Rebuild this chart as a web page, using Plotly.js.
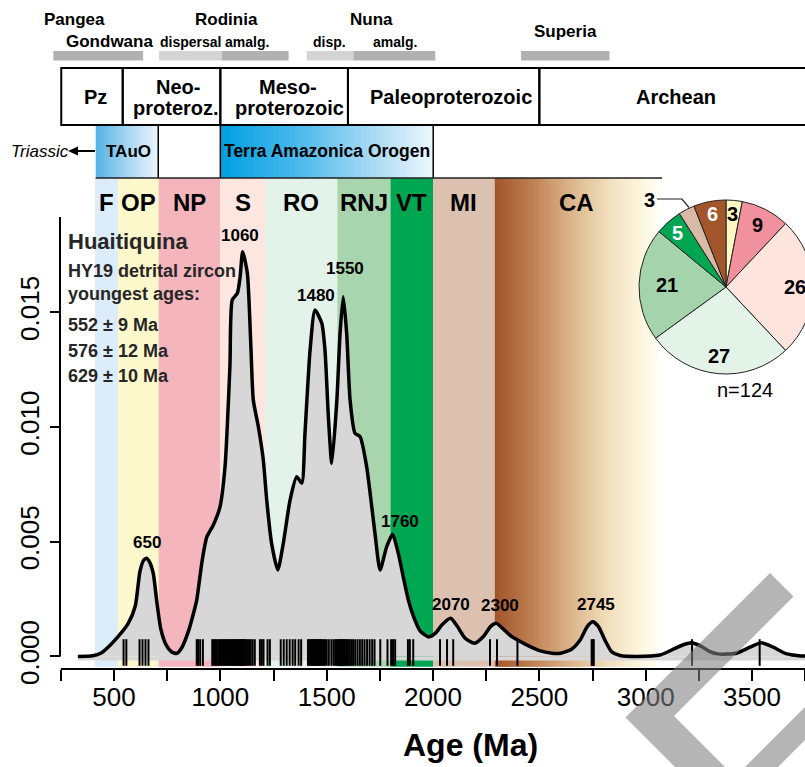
<!DOCTYPE html>
<html><head><meta charset="utf-8">
<script src="https://cdn.plot.ly/plotly-3.0.1.min.js"></script>
<style>html,body{margin:0;padding:0;overflow:hidden;background:#fff;width:805px;height:767px}#chart{width:830px;height:767px}</style>
</head><body><div id="chart"></div>
<script>
// ---------------- data ----------------
const kdeAge = [330,400,440,483,519,567,600,622,640,653,668,685,701,720,745,770,795,820,850,880,
  889,915,936,967,998,1022,1045,1056,1080,1093,1105,1127,1143,1155,1179,1202,1218,1241,1270,1296,
  1328,1359,1383,1398,1422,1445,1477,1492,1508,1524,1548,1563,1578,1594,1610,1633,1657,1688,1727,1751,
  1782,1810,1837,1860,1884,1910,1940,1980,2010,2045,2083,2115,2150,2195,2240,2270,2298,2330,2365,2400,
  2440,2500,2560,2600,2650,2691,2725,2751,2778,2809,2840,2880,2960,3067,3138,3180,3216,3260,3300,3340,
  3380,3430,3490,3544,3600,3660,3720,3880];
const kdeDensity = [0,0.00003,0.00015,0.0005,0.00086,0.00144,0.0022,0.0037,0.0042,0.00428,0.0041,0.0036,0.0024,0.0012,0.0005,0.0002,0.00013,0.0004,0.0011,0.0021,
  0.00246,0.0042,0.0052,0.00573,0.0065,0.00827,0.01263,0.01554,0.01583,0.01655,0.01764,0.0167,0.01365,0.01118,0.0100,0.00856,0.00682,0.00493,0.00377,0.00493,
  0.00682,0.00783,0.00755,0.00973,0.01336,0.0151,0.01452,0.01336,0.01045,0.00842,0.01118,0.01408,0.01568,0.01408,0.01118,0.00973,0.00958,0.00827,0.00537,0.00377,
  0.00478,0.00532,0.00449,0.00347,0.00246,0.0017,0.0011,0.00085,0.001,0.0014,0.00166,0.0013,0.0008,0.00057,0.0009,0.0013,0.00144,0.0012,0.0009,0.0007,
  0.0005,0.00025,0.00014,0.00014,0.0003,0.0007,0.0013,0.00151,0.0013,0.0007,0.0002,0.00004,0,0.00006,0.00035,0.00052,0.0006,0.00045,0.00022,0.00011,
  0.0001,0.00015,0.0004,0.0006,0.0004,0.00012,0.00003,0];
const zirconAges = [545,558,620,634,648,662,
  889,895,905,918,962,968,975,983,990,996,
  1003,1009,1015,1021,1027,1033,1039,1045,1051,1056,1061,1066,1071,1076,1081,1086,1090,1094,1098,1102,1106,1110,1115,1120,1127,1135,1143,1152,1162,1186,1195,1203,
  1222,1233,1284,1298,1312,1326,1340,1352,1368,1380,1412,1418,1424,1429,1434,1438,1442,1446,1450,1454,1458,1463,1468,1473,1479,1485,1492,1500,1510,1522,1532,1540,1546,
  1552,1556,1560,1564,1568,1572,1576,1580,1584,1589,1594,1600,1607,1615,1624,1634,1645,1656,1667,1678,1690,1702,1714,1725,1752,1786,
  1803,1812,1822,1882,1891,1907,
  2033,2066,2095,2268,
  2301,2397,2746,2751,2756,3218,3536];
const nGrains = 124;

const bandNames  = ['F','OP','NP','S','RO','RNJ','VT','MI','CA'];
const bandStart  = [410,520,710,1000,1210,1550,1800,2000,2290];
const bandEnd    = [520,710,1000,1210,1550,1800,2000,2290,3060];
const bandColors = ['#dcecf9','#fdf8cb','#f5b5bc','#fde6e0','#e4f3e9','#a8d4ae','#00a651','#dcc0b0',null];

const pieLabels  = ['OP','NP','S','RO','RNJ','VT','MI','CA'];
const piePercent = [3,9,26,27,21,5,3,6];
const pieColors  = ['#fdf7c2','#f1919e','#fde4dc','#e3f3e8','#a5d3ab','#00a651','#d8baa7','#a3552b'];
const pieTextColors = ['black','black','black','black','black','white',null,'white'];

const peakLabels = ['650','1060','1480','1550','1760','2070','2300','2745'];
const peakAge    = [655,1092,1450,1586,1845,2085,2315,2766];
const peakTextY  = [0.00495,0.01833,0.01575,0.01693,0.0059,0.00228,0.0022,0.00228];

const eraStart = [252,541,1000,1600,2500];
const eraEnd   = [541,1000,1600,2500,4000];
const eraText  = ['Pz','Neo-','proteroz.','Meso-','proterozoic','Paleoproterozoic','Archean'];
const eraTextX = [411,801,792,1318,1323,2084,3142];
const eraTextPy= [97,87,108,87,108,97,97];

const orogenText  = ['TAuO','Terra Amazonica Orogen'];
const orogenStart = [414,1000];
const orogenEnd   = [708,2001];
const orogenDividers = [708,1000,2001];
const orogenLineEnd = 3077;

const superText = ['Pangea','Gondwana','Rodinia','dispersal','amalg.','Nuna','disp.','amalg.','Superia'];
const superTextX = [316,477,1027,860,1125,1713,1515,1821,2625];
const superTextPy= [20,41,20,42,42,20,42,42,32];
const superTextSize=[17,17,17,14,14,17,14,14,17];
const superStart = [215,712,1007,1406,1626,2414];
const superEnd   = [637,1007,1321,1626,2011,2830];
const superShade = ['#b1b1b1','#d4d4d4','#b1b1b1','#d4d4d4','#b1b1b1','#b1b1b1'];

const sampleName = 'Huaitiquina';
const sampleLines = ['HY19 detrital zircon','youngest ages:'];
const youngest = ['552 ± 9 Ma','576 ± 12 Ma','629 ± 10 Ma'];

const xTickVals = [250,500,750,1000,1250,1500,1750,2000,2250,2500,2750,3000,3250,3500,3750];
const xTickText = ['','500','','1000','','1500','','2000','','2500','','3000','','3500',''];
const yTickVals = [0,0.005,0.010,0.015];
const yTickText = ['0.000','0.005','0.010','0.015'];

// ---------------- geometry ----------------
const W = 830, H = 767;
const PX0 = 7.67, PXPERMA = 0.21267;
const Y0PX = 656.4, PXPERUNIT = 22940;
const xRange = [-PX0/PXPERMA, (W-PX0)/PXPERMA];
const yTop = (Y0PX-178)/PXPERUNIT, yBot = (Y0PX-669)/PXPERUNIT;
const py2p = py => (H-py)/H;
const px2p = px => px/W;
const FONT = 'Liberation Sans, Arial, Helvetica, sans-serif';

const shapes = [];
const annotations = [];
function label(o){ annotations.push(Object.assign({showarrow:false,xanchor:'center',yanchor:'middle'},o)); }

function lerpColor(stops, t){
  for(let k=1;k<stops.length;k++){
    if(t<=stops[k][0]){
      const a=stops[k-1], b=stops[k]; const u=(t-a[0])/(b[0]-a[0]);
      const c=[0,1,2].map(j=>Math.round(a[1][j]+(b[1][j]-a[1][j])*u));
      return 'rgb('+c.join(',')+')';
    }
  }
  return 'rgb('+stops[stops.length-1][1].join(',')+')';
}
function gradient(x0,x1,stops,yref,y0,y1,n){
  const step=(x1-x0)/n;
  for(let i=0;i<n;i++){
    shapes.push({type:'rect',layer:'below',xref:'x',yref:yref,x0:x0+i*step,x1:Math.min(x1,x0+(i+1.7)*step),
      y0:y0,y1:y1,line:{width:0},fillcolor:lerpColor(stops,(i+0.5)/n)});
  }
}
const caStops = [[0,[162,84,40]],[0.2,[186,122,76]],[0.45,[218,178,136]],[0.7,[242,224,189]],[0.9,[252,246,223]],[1,[255,253,242]]];
const tauoStops = [[0,[85,178,228]],[0.5,[165,213,240]],[1,[236,246,252]]];
const terraStops = [[0,[0,160,227]],[0.35,[72,184,235]],[0.7,[165,217,243]],[1,[238,247,253]]];

// bands
bandNames.forEach((nm,i)=>{
  if(bandColors[i]){
    shapes.push({type:'rect',layer:'below',xref:'x',yref:'y',x0:bandStart[i],x1:bandEnd[i],y0:-0.00045,y1:yTop,line:{width:0},fillcolor:bandColors[i]});
  } else {
    gradient(bandStart[i],bandEnd[i],caStops,'y',-0.00045,yTop,70);
  }
  label({xref:'x',yref:'paper',x:(bandStart[i]+bandEnd[i])/2,y:py2p(203),text:'<b>'+nm+'</b>',font:{family:FONT,size:24,color:'black'}});
});
// grey strip under baseline
shapes.push({type:'rect',layer:'below',xref:'x',yref:'y',x0:kdeAge[0],x1:xRange[1],y0:-0.00018,y1:0,line:{width:0},fillcolor:'#d8d7d8'});

// orogen row
gradient(orogenStart[0],orogenEnd[0],tauoStops,'paper',py2p(178),py2p(125),40);
gradient(orogenStart[1],orogenEnd[1],terraStops,'paper',py2p(178),py2p(125),70);
orogenDividers.forEach(v=>shapes.push({type:'line',xref:'x',yref:'paper',x0:v,x1:v,y0:py2p(178),y1:py2p(125),line:{color:'black',width:1.5}}));
shapes.push({type:'line',xref:'x',yref:'paper',x0:orogenStart[0],x1:orogenLineEnd,y0:py2p(178),y1:py2p(178),line:{color:'#222',width:1.5}});
label({xref:'x',yref:'paper',x:566,y:py2p(151),text:'<b>'+orogenText[0]+'</b>',font:{family:FONT,size:17,color:'black'}});
label({xref:'x',yref:'paper',x:(orogenStart[1]+orogenEnd[1])/2,y:py2p(151),text:'<b>'+orogenText[1]+'</b>',font:{family:FONT,size:17.5,color:'black'}});
label({xref:'paper',yref:'paper',x:px2p(9),y:py2p(151),xanchor:'left',text:'<i>Triassic</i>',font:{family:FONT,size:17,color:'black'}});
shapes.push({type:'line',xref:'paper',yref:'paper',x0:px2p(75),x1:px2p(95),y0:py2p(151),y1:py2p(151),line:{color:'black',width:2}});
shapes.push({type:'path',xref:'paper',yref:'paper',
  path:'M'+px2p(68)+','+py2p(151)+' L'+px2p(78)+','+py2p(146.5)+' L'+px2p(78)+','+py2p(155.5)+' Z',fillcolor:'black',line:{width:0}});

// era boxes
eraStart.forEach((s,i)=>shapes.push({type:'rect',xref:'x',yref:'paper',x0:s,x1:eraEnd[i],y0:py2p(125),y1:py2p(68),line:{color:'black',width:2},fillcolor:'rgba(0,0,0,0)'}));
eraText.forEach((t,i)=>label({xref:'x',yref:'paper',x:eraTextX[i],y:py2p(eraTextPy[i]),text:'<b>'+t+'</b>',font:{family:FONT,size:20,color:'black'}}));

// supercontinent bars
superStart.forEach((s,i)=>shapes.push({type:'rect',xref:'x',yref:'paper',x0:s,x1:superEnd[i],y0:py2p(60.5),y1:py2p(51),line:{width:0},fillcolor:superShade[i]}));
superText.forEach((t,i)=>label({xref:'x',yref:'paper',x:superTextX[i],y:py2p(superTextPy[i]),text:'<b>'+t+'</b>',font:{family:FONT,size:superTextSize[i],color:'black'}}));

// axis lines
shapes.push({type:'line',xref:'x',yref:'paper',x0:250,x1:xRange[1],y0:py2p(669),y1:py2p(669),line:{color:'black',width:2}});
shapes.push({type:'line',xref:'paper',yref:'y',x0:px2p(60),x1:px2p(60),y0:0,y1:0.01915,line:{color:'black',width:2}});

// peak labels
peakLabels.forEach((t,i)=>label({xref:'x',yref:'y',x:peakAge[i],y:peakTextY[i],text:'<b>'+t+'</b>',font:{family:FONT,size:17,color:'black'}}));

// sample text
label({xref:'paper',yref:'paper',x:px2p(66),y:py2p(242),xanchor:'left',text:'<b>'+sampleName+'</b>',font:{family:FONT,size:22,color:'#262626'}});
const textPy = [271,294,325,351,376];
sampleLines.concat(youngest).forEach((t,i)=>label({xref:'paper',yref:'paper',x:px2p(66),y:py2p(textPy[i]),xanchor:'left',text:'<b>'+t+'</b>',font:{family:FONT,size:18,color:'#262626'}}));

// x title
label({xref:'paper',yref:'paper',x:px2p(470),y:py2p(745),text:'<b>Age (Ma)</b>',font:{family:FONT,size:32,color:'black'}});

// pie labels
const pieCx=726, pieCy=287, pieR=87;
const pieLabelRadius=[0.84,0.8,0.79,0.8,0.68,0.835,null,0.855];
let cum=0;
piePercent.forEach((v,i)=>{
  const mid=(cum+v/2)/100*2*Math.PI; cum+=v;
  if(pieLabelRadius[i]===null) return;
  const f=pieLabelRadius[i];
  label({xref:'paper',yref:'paper',x:px2p(pieCx+pieR*f*Math.sin(mid)),y:py2p(pieCy-pieR*f*Math.cos(mid)),
    text:'<b>'+v+'</b>',font:{family:FONT,size:20,color:pieTextColors[i]}});
});
label({xref:'paper',yref:'paper',x:px2p(649),y:py2p(200),text:'<b>'+piePercent[6]+'</b>',font:{family:FONT,size:20,color:'black'}});
shapes.push({type:'path',xref:'paper',yref:'paper',layer:'above',
  path:'M'+px2p(657)+','+py2p(199)+' L'+px2p(682)+','+py2p(199)+' L'+px2p(689)+','+py2p(207.5),line:{color:'#222',width:1.2}});
label({xref:'paper',yref:'paper',x:px2p(745),y:py2p(390),text:'n='+nGrains,font:{family:FONT,size:20,color:'black'}});

// watermark (grey chevron strokes)
function poly(pts){return pts.map((p,k)=>(k?'L':'M')+px2p(p[0])+','+py2p(p[1])).join(' ')+' Z';}
shapes.push({type:'path',xref:'paper',yref:'paper',layer:'above',path:poly([[770,573],[625.5,717.5],[708,800],[758,800],[674,716],[793.5,596.5]]),fillcolor:'rgba(128,128,128,0.58)',line:{width:0}});
shapes.push({type:'path',xref:'paper',yref:'paper',layer:'above',path:poly([[830,682],[830,715],[745,800],[712,800]]),fillcolor:'rgba(128,128,128,0.58)',line:{width:0}});

// ---------------- traces ----------------
const traces = [
  {type:'scatter',x:kdeAge,y:kdeDensity,mode:'lines',line:{color:'black',width:3.5,shape:'spline',smoothing:0.6},
   fill:'tozeroy',fillcolor:'#d8d7d8',hoverinfo:'skip'},
  {type:'scatter',x:zirconAges,y:zirconAges.map(()=>0.00017),mode:'markers',
   marker:{symbol:'line-ns',size:19,color:'black',line:{width:2,color:'black'}},hoverinfo:'skip'},
  {type:'pie',values:piePercent,labels:pieLabels,sort:false,direction:'clockwise',rotation:0,
   marker:{colors:pieColors,line:{color:'#222',width:1}},textinfo:'none',hoverinfo:'skip',
   domain:{x:[px2p(pieCx-pieR),px2p(pieCx+pieR)],y:[py2p(pieCy+pieR),py2p(pieCy-pieR)]}}
];

const layout = {
  width:W,height:H,margin:{l:0,r:0,t:0,b:0,pad:0},showlegend:false,
  paper_bgcolor:'white',plot_bgcolor:'rgba(0,0,0,0)',hovermode:false,
  font:{family:FONT,color:'black'},
  xaxis:{domain:[0,1],range:xRange,showgrid:false,zeroline:false,showline:false,automargin:false,
    tickmode:'array',tickvals:xTickVals,ticktext:xTickText,ticks:'outside',ticklen:11,tickwidth:2,tickcolor:'black',
    tickfont:{family:FONT,size:26,color:'black'},ticklabelstandoff:-6},
  yaxis:{domain:[py2p(669),py2p(178)],range:[yBot,yTop],anchor:'free',position:px2p(60),side:'left',
    showgrid:false,zeroline:false,showline:false,automargin:false,
    tickmode:'array',tickvals:yTickVals,ticktext:yTickText,ticks:'outside',ticklen:10,tickwidth:2,tickcolor:'black',
    tickangle:-90,tickfont:{family:FONT,size:26,color:'black'},ticklabelstandoff:1},
  shapes:shapes,annotations:annotations
};
Plotly.newPlot('chart',traces,layout,{staticPlot:true,displayModeBar:false});
</script></body></html>
